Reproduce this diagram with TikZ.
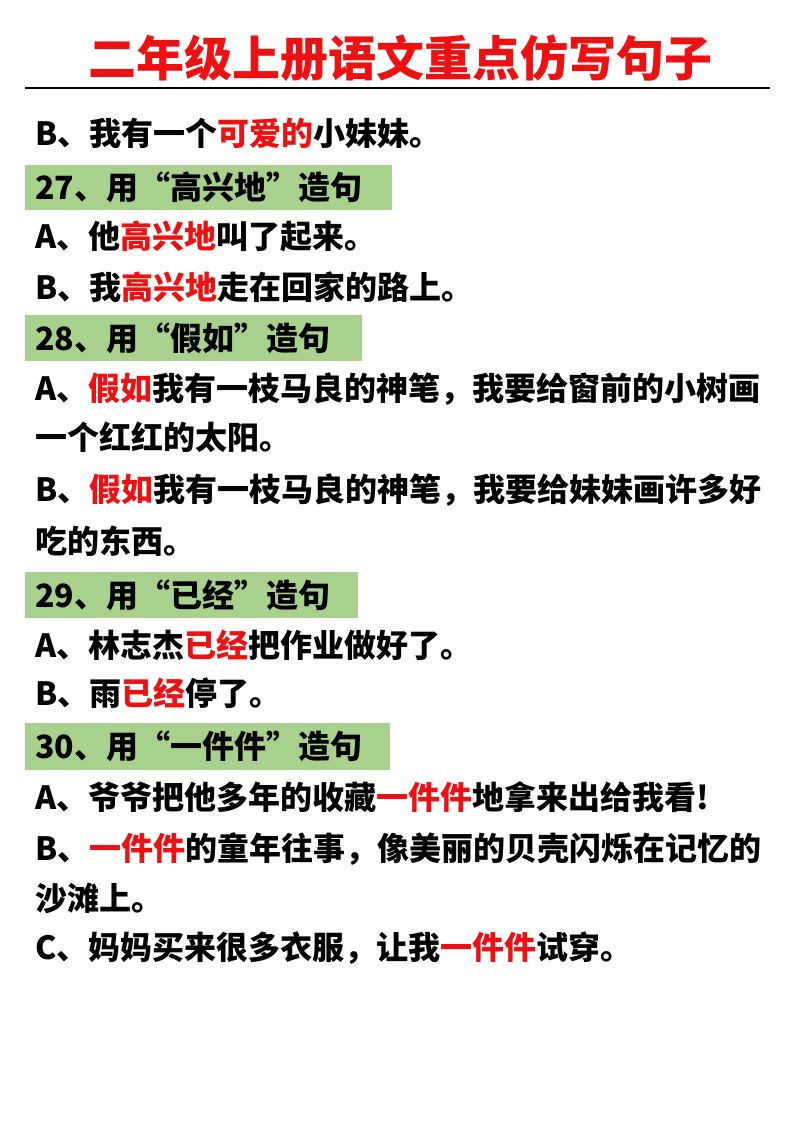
\documentclass[tikz,border=0pt]{standalone}
\usepackage{fontspec}
\setmainfont{Noto Sans CJK SC}
\begin{document}
\begin{tikzpicture}[x=1pt,y=-1pt,
  ln/.style={anchor=west,inner sep=0pt,font=\fontsize{32}{32}\selectfont\bfseries},
  hd/.style={fill=hdgreen,draw=none}]
\definecolor{hdgreen}{HTML}{A9D18E}
\definecolor{tred}{HTML}{EE1111}
\useasboundingbox[fill=white] (0,0) rectangle (800,1132);
\node[inner sep=0pt,text=tred,font=\fontsize{48}{48}\selectfont\bfseries] (title) at (400,58) {二年级上册语文重点仿写句子};
\coordinate (l1) at (25,88); \coordinate (l2) at (770,88);
\draw[line width=1.2pt] (l1) -- (l2);
\fill[hdgreen] (25,165) rectangle (392,210);
\fill[hdgreen] (25,315) rectangle (362,361);
\fill[hdgreen] (25,572) rectangle (358,618);
\fill[hdgreen] (25,723) rectangle (390,770);
\node[ln] (a) at (35,133) {\textit{B}、我有一个\textcolor{tred}{可爱的}小妹妹。};
\node[ln] (h27) at (35,187) {27、用“高兴地”造句};
\node[ln] (b) at (35,236) {A、他\textcolor{tred}{高兴地}叫了起来。};
\node[ln] (c) at (35,287) {\textit{B}、我\textcolor{tred}{高兴地}走在回家的路上。};
\node[ln] (h28) at (35,338) {28、用“假如”造句};
\node[ln] (d) at (35,389) {A、\textcolor{tred}{假如}我有一枝马良的神笔，我要给窗前的小树画};
\node[ln] (e) at (35,437) {一个红红的太阳。};
\node[ln] (f) at (35,490) {\textit{B}、\textcolor{tred}{假如}我有一枝马良的神笔，我要给妹妹画许多好};
\node[ln] (g) at (35,541) {吃的东西。};
\node[ln] (h29) at (35,595) {29、用“已经”造句};
\node[ln] (h) at (35,645) {A、林志杰\textcolor{tred}{已经}把作业做好了。};
\node[ln] (i) at (35,693) {\textit{B}、雨\textcolor{tred}{已经}停了。};
\node[ln] (h30) at (35,746) {30、用“一件件”造句};
\node[ln] (j) at (35,797) {A、爷爷把他多年的收藏\textcolor{tred}{一件件}地拿来出给我看!};
\node[ln] (k) at (35,849) {\textit{B}、\textcolor{tred}{一件件}的童年往事，像美丽的贝壳闪烁在记忆的};
\node[ln] (m) at (35,898) {沙滩上。};
\node[ln] (n) at (35,948) {C、妈妈买来很多衣服，让我\textcolor{tred}{一件件}试穿。};
\end{tikzpicture}
\end{document}
